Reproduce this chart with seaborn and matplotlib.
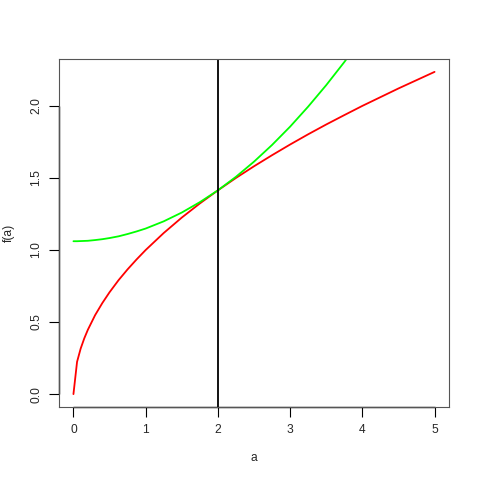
import numpy as np
import pandas as pd
import matplotlib
matplotlib.use('Agg')
import matplotlib.pyplot as plt
import seaborn as sns

# values
a_vals = [0, 0.05, 0.1, 0.15, 0.2, 0.3, 0.4, 0.5, 0.625, 0.75, 0.875, 1.0, 1.25,
          1.5, 1.75, 2.0, 2.25, 2.5, 2.75, 3.0, 3.25, 3.5, 3.75, 4.0, 4.5, 5.0]
red_vals = [0.0, 0.224, 0.316, 0.387, 0.447, 0.548, 0.632, 0.707, 0.791, 0.866,
            0.935, 1.0, 1.118, 1.225, 1.323, 1.414, 1.5, 1.581, 1.658, 1.732,
            1.803, 1.871, 1.936, 2.0, 2.121, 2.236]
green_vals = [1.061, 1.061, 1.062, 1.063, 1.064, 1.069, 1.075, 1.083, 1.095,
              1.111, 1.129, 1.149, 1.199, 1.260, 1.332, 1.414, 1.508, 1.613,
              1.729, 1.856, 1.995, 2.144, 2.304, 2.475, 2.851, 3.271]
vline_a = 2
x_ticks = [0, 1, 2, 3, 4, 5]
y_ticks = [0.0, 0.5, 1.0, 1.5, 2.0]
y_tick_labels = ['0.0', '0.5', '1.0', '1.5', '2.0']

df = pd.DataFrame({'a': a_vals, 'red': red_vals, 'green': green_vals})

sns.set_style('white')
plt.rcParams['font.family'] = ['Liberation Sans', 'DejaVu Sans']
fs = 8.64

fig = plt.figure(figsize=(4.8, 4.8), dpi=100)
ax = fig.add_axes([59 / 480, 1 - 407 / 480, 390 / 480, 348 / 480])

sns.lineplot(data=df, x='a', y='red', ax=ax, color='#ff0000', lw=1.3, sort=False)
sns.lineplot(data=df, x='a', y='green', ax=ax, color='#00ff00', lw=1.3, sort=False)
ax.axvline(vline_a, color='black', lw=1.3)

ax.set_xlim(-0.2, 5.2)
ax.set_ylim(-0.0894, 2.3254)

ax.set_xticks(x_ticks)
ax.set_xticklabels([str(t) for t in x_ticks], fontsize=fs)
ax.set_yticks(y_ticks)
ax.set_yticklabels(y_tick_labels, fontsize=fs, rotation=90, va='center')
ax.tick_params(direction='out', length=7, width=0.8, color='black',
               pad=5, bottom=True, left=True)

for s in ax.spines.values():
    s.set_color('#555555')
    s.set_linewidth(0.8)
# axis lines from first to last tick, as R draws them
ax.hlines(ax.get_ylim()[0], x_ticks[0], x_ticks[-1], color='black', lw=1.0, clip_on=False)
ax.vlines(ax.get_xlim()[0], y_ticks[0], y_ticks[-1], color='black', lw=1.0, clip_on=False)

ax.set_xlabel('a', fontsize=fs, va='center')
ax.set_ylabel('f(a)', fontsize=fs, va='center')
ax.xaxis.set_label_coords(0.5, -51 / 348)
ax.yaxis.set_label_coords(-50 / 390, 0.5)
ax.grid(False)

fig.savefig('out.png', dpi=100, facecolor='white')
plt.close()
